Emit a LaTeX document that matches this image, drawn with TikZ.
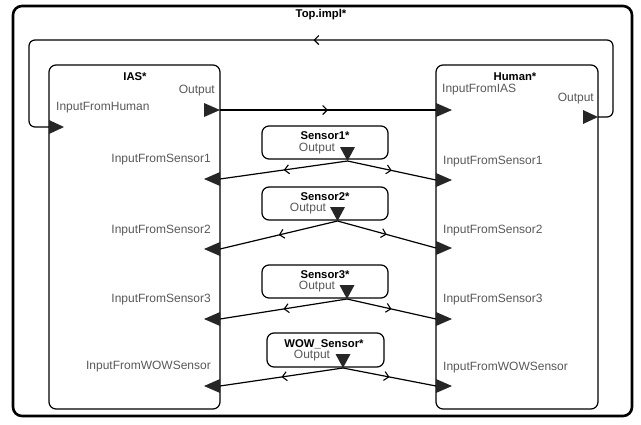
\documentclass[tikz,border=0pt]{standalone}
\usepackage{fontspec}
\setmainfont{Liberation Sans}
\usetikzlibrary{arrows.meta,decorations.markings,calc}
\definecolor{lblgray}{RGB}{88,88,88}
\tikzset{
  box/.style={draw=black,line width=1.2pt,rounded corners=7pt,inner sep=0pt},
  sbox/.style={draw=black,line width=1.2pt,rounded corners=7pt,inner sep=0pt},
  title/.style={font=\fontsize{11.3}{13}\selectfont\bfseries,text=black,inner sep=0pt},
  lbl/.style={font=\fontsize{12}{13}\selectfont,text=lblgray,inner sep=0pt},
  portfill/.style={fill=black!85},
  conn/.style={draw=black,line width=1.2pt},
  midarr/.style={postaction={decorate},decoration={markings,
    mark=at position 0.5 with {\arrow{Straight Barb[length=4.5pt,width=9pt,line width=1.1pt]}}}}
}
\begin{document}
\begin{tikzpicture}[x=1pt,y=-1pt]
\useasboundingbox (0,0) rectangle (641,424);
% outer frame
\node[draw=black,line width=2.6pt,rounded corners=9pt,minimum width=619pt,minimum height=410pt] (top) at (322.5,211) {};
\node[title] (toptitle) at (321,15) {Top.impl*};
% main blocks
\node[box,minimum width=171pt,minimum height=344pt] (ias) at (134.5,237) {};
\node[box,minimum width=162pt,minimum height=344pt] (hum) at (517,237) {};
\node[title] (iast) at (135,77) {IAS*};
\node[title] (humt) at (515,77) {Human*};
\node[lbl,anchor=east] (iasoutl) at (215,91) {Output};
\node[lbl,anchor=west] (iasinhl) at (56,108) {InputFromHuman};
\node[lbl,anchor=west] (huminl) at (442,90) {InputFromIAS};
\node[lbl,anchor=east] (humoutl) at (594,99) {Output};
\node[lbl,anchor=east] (il1) at (211,160) {InputFromSensor1};
\node[lbl,anchor=east] (il2) at (211,231) {InputFromSensor2};
\node[lbl,anchor=east] (il3) at (211,300) {InputFromSensor3};
\node[lbl,anchor=east] (il4) at (211,367) {InputFromWOWSensor};
\node[lbl,anchor=west] (hl1) at (443,162) {InputFromSensor1};
\node[lbl,anchor=west] (hl2) at (443,231) {InputFromSensor2};
\node[lbl,anchor=west] (hl3) at (443,300) {InputFromSensor3};
\node[lbl,anchor=west] (hl4) at (443,368) {InputFromWOWSensor};
% sensors
\node[sbox,minimum width=126pt,minimum height=33pt] (s1) at (325,142.5) {};
\node[sbox,minimum width=126pt,minimum height=33pt] (s2) at (325,203.5) {};
\node[sbox,minimum width=126pt,minimum height=33pt] (s3) at (325,281.5) {};
\node[sbox,minimum width=117pt,minimum height=34pt] (s4) at (325.5,350) {};
\node[title] (s1t) at (325,136) {Sensor1*};
\node[lbl] (s1o) at (317,149) {Output};
\node[title] (s2t) at (325,197) {Sensor2*};
\node[lbl] (s2o) at (308,209) {Output};
\node[title] (s3t) at (325,275) {Sensor3*};
\node[lbl] (s3o) at (317,287) {Output};
\node[title] (s4t) at (324,344) {WOW\_Sensor*};
\node[lbl] (s4o) at (312,356) {Output};
% port coordinates
\coordinate (iasOut) at (220,110);
\coordinate (humInIAS) at (436,110);
\coordinate (humOut) at (598,117);
\coordinate (iasInHum) at (49,127);
\coordinate (s1p) at (347.5,161);
\coordinate (s2p) at (337.5,221);
\coordinate (s3p) at (347,299);
\coordinate (s4p) at (343,368);
\coordinate (ii1) at (220,179);
\coordinate (ii2) at (220,249);
\coordinate (ii3) at (220,319);
\coordinate (ii4) at (220,386);
\coordinate (hi1) at (436,180);
\coordinate (hi2) at (436,248);
\coordinate (hi3) at (436,319);
\coordinate (hi4) at (436,386);
% connectors
\draw[conn,midarr] (iasOut) -- (humInIAS);
\draw[conn,midarr,rounded corners=6pt] (humOut) -- ++(15,0) |- (312,40) -- (29,40) |- (iasInHum);
\foreach \s/\n in {s1p/1,s2p/2,s3p/3,s4p/4}{
  \draw[conn,midarr] (\s) -- (ii\n);
  \draw[conn,midarr] (\s) -- (hi\n);
}
% ports
\fill[portfill] ($(iasOut)+(-16,-7)$) -- (iasOut) -- ($(iasOut)+(-16,7)$) -- cycle;
\fill[portfill] ($(humInIAS)+(0,-7)$) -- ($(humInIAS)+(16,0)$) -- ($(humInIAS)+(0,7)$) -- cycle;
\fill[portfill] ($(humOut)+(-15,-7)$) -- (humOut) -- ($(humOut)+(-15,7)$) -- cycle;
\fill[portfill] ($(iasInHum)+(0,-7)$) -- ($(iasInHum)+(15,0)$) -- ($(iasInHum)+(0,7)$) -- cycle;
\foreach \n in {1,2,3,4}{
  \fill[portfill] ($(ii\n)+(0,-7)$) -- ($(ii\n)+(-16,0)$) -- ($(ii\n)+(0,7)$) -- cycle;
  \fill[portfill] ($(hi\n)+(0,-7)$) -- ($(hi\n)+(16,0)$) -- ($(hi\n)+(0,7)$) -- cycle;
}
\foreach \s in {s1p,s2p,s3p,s4p}{
  \fill[portfill] ($(\s)+(-7.5,-14)$) -- ($(\s)+(7.5,-14)$) -- (\s) -- cycle;
}
\end{tikzpicture}
\end{document}
